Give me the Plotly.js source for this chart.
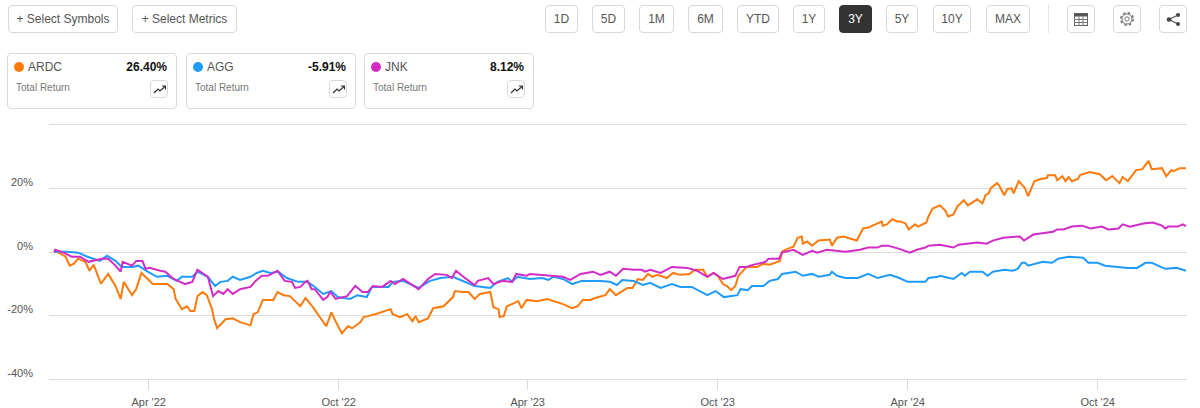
<!DOCTYPE html>
<html><head><meta charset="utf-8">
<script src="https://cdn.plot.ly/plotly-3.0.1.min.js"></script>
<style>
html,body{margin:0;padding:0;background:#fff;width:1200px;height:408px;overflow:hidden;font-family:"Liberation Sans",Arial,sans-serif}
#chart{position:absolute;left:0;top:0;width:1200px;height:408px}
.b{position:absolute;box-sizing:border-box;border:1px solid #d9d9d9;border-radius:4px;background:#fff;color:#555;font-size:12px;display:flex;align-items:center;justify-content:center;z-index:2}
.b.on{background:#333;border-color:#333;color:#fff;font-weight:400}
.card{position:absolute;box-sizing:border-box;border:1px solid #d9d9d9;border-radius:4px;top:53px;height:56px;width:170px;background:#fff;z-index:2}
.dot{position:absolute;left:6px;top:8px;width:10px;height:10px;border-radius:50%}
.sym{position:absolute;left:20px;top:6px;font-size:12px;color:#555}
.val{position:absolute;right:9px;top:6px;font-size:12px;font-weight:700;color:#111}
.tr{position:absolute;left:8px;top:28px;font-size:10px;color:#777}
.ic{position:absolute;right:8px;top:26px;width:18px;height:18px;box-sizing:border-box;border:1px solid #d9d9d9;border-radius:4px;display:flex;align-items:center;justify-content:center}
.div{position:absolute;left:1048px;top:5px;width:1px;height:28px;background:#e3e3e3}
</style></head><body>
<div id="chart"></div>
<script>
var startDate = Date.UTC(2021, 11, 31);
var ardcDays = [0,1,6,11,15,19,23,30,34,38,45,52,59,64,67,75,79,84,95,109,115,117,123,128,131,135,138,143,147,152,154,157,165,172,179,189,192,196,201,211,215,221,227,235,237,242,249,262,267,271,277,283,287,295,298,302,309,324,326,333,340,345,348,351,360,365,375,384,386,393,399,405,410,420,423,428,429,433,436,447,450,455,465,475,481,490,499,504,509,516,524,531,535,541,552,557,562,567,572,576,581,590,596,603,612,617,625,629,635,639,644,648,652,656,659,667,677,683,689,699,701,706,712,716,720,721,725,730,736,747,749,754,760,773,779,784,793,797,798,802,807,812,815,820,823,829,832,840,842,846,853,858,861,866,870,876,880,889,894,897,900,902,908,910,915,918,922,924,929,935,938,944,950,956,957,964,966,971,974,977,980,986,988,997,1007,1013,1019,1026,1029,1034,1042,1048,1054,1057,1067,1071,1076,1078,1084,1090];
var ardcValues = [0,0.4,-0.5,-1.5,-4.3,-3.7,-2.1,-3.1,-5.9,-4.0,-10.0,-6.9,-10.7,-14.8,-9.4,-13.6,-11.7,-6.6,-10.1,-10.1,-11.7,-14.8,-18.0,-17.1,-18.6,-18.6,-13.9,-12.6,-13.6,-18.0,-21.2,-24.0,-21.2,-20.9,-22.1,-23.1,-19.6,-19.0,-15.1,-15.1,-12.6,-13.6,-13.9,-16.4,-17.1,-14.5,-17.3,-23.4,-19.0,-21.8,-25.6,-23.4,-24.0,-22.1,-20.5,-20.2,-19.6,-18.0,-19.6,-20.5,-19.6,-21.8,-20.2,-22.1,-20.9,-17.7,-17.1,-14.2,-12.3,-12.6,-12.6,-14.8,-13.2,-12.6,-17.4,-18.0,-20.5,-20.2,-17.1,-15.5,-17.7,-15.1,-15.5,-14.8,-15.5,-16.4,-17.7,-17.1,-15.1,-15.1,-14.2,-13.6,-11.7,-13.6,-11.3,-11.3,-8.5,-8.8,-6.9,-7.8,-7.2,-8.2,-6.6,-7.2,-6.9,-5.6,-5.6,-7.8,-6.6,-7.5,-10.1,-10.7,-12.0,-10.7,-7.5,-4.7,-4.7,-3.7,-4.0,-2.8,0.1,1.0,1.7,4.5,4.9,2.6,3.3,2.0,3.6,3.9,2.0,4.5,4.9,3.6,7.4,7.7,9.0,9.6,8.3,8.7,10.3,9.6,9.6,9.0,7.1,8.7,8.0,9.3,11.2,13.7,14.7,13.1,11.2,11.8,14.4,16.3,14.7,16.6,15.3,17.9,18.5,20.1,21.7,21.0,17.9,19.8,20.1,18.5,22.3,20.1,17.6,22.3,23.0,23.3,24.2,24.2,22.6,23.9,22.3,23.6,22.3,23.0,24.2,25.2,24.5,22.6,23.9,21.7,23.6,22.3,25.8,26.1,28.7,26.1,26.4,23.9,25.8,25.5,26.4,26.40];
var aggDays = [0,1,13,23,32,39,44,51,59,65,75,81,90,99,109,118,123,133,138,148,155,160,167,172,179,189,195,201,208,216,224,235,244,251,259,267,273,285,292,301,306,322,326,336,351,362,372,384,394,405,420,427,437,441,446,458,470,476,481,490,499,508,526,535,542,547,558,567,574,584,595,603,614,629,637,645,658,661,668,672,683,689,697,701,714,721,730,736,747,749,754,762,774,784,793,805,814,822,839,842,851,853,866,874,877,882,894,899,904,911,915,923,928,932,935,938,945,952,961,967,977,991,996,1005,1012,1027,1034,1043,1051,1057,1063,1070,1081,1090];
var aggValues = [0,0.1,0.1,-0.2,-1.5,-2.4,-2.8,-1.2,-2.8,-4.7,-4.7,-4.3,-6.2,-7.8,-7.5,-9.1,-7.8,-7.8,-6.2,-7.8,-10.7,-9.4,-9.1,-7.8,-8.8,-7.8,-6.6,-5.9,-6.6,-6.2,-8.2,-9.4,-9.4,-11.0,-13.2,-12.3,-14.2,-14.8,-13.6,-14.2,-11.0,-11.0,-9.4,-9.1,-11.3,-9.1,-8.2,-7.8,-9.1,-10.7,-11.3,-9.4,-8.2,-9.4,-7.8,-8.5,-8.2,-8.8,-7.8,-8.5,-10.1,-9.1,-9.1,-9.4,-10.4,-8.8,-9.1,-10.4,-9.7,-11.3,-10.1,-11.0,-11.0,-13.6,-12.3,-14.2,-13.6,-11.7,-12.0,-10.7,-10.7,-9.1,-8.5,-6.9,-6.2,-7.5,-6.9,-7.8,-7.2,-6.2,-7.5,-8.2,-8.2,-6.9,-8.2,-7.2,-8.2,-9.4,-9.4,-8.2,-7.8,-7.5,-8.5,-6.6,-7.5,-6.2,-6.2,-7.5,-6.2,-5.9,-5.6,-5.9,-5.3,-3.4,-3.4,-4.3,-3.7,-3.1,-3.4,-2.1,-1.5,-1.8,-3.4,-3.4,-4.3,-4.7,-5.0,-5.0,-3.4,-3.4,-4.3,-5.3,-5.0,-5.91];
var jnkDays = [0,1,9,17,25,33,46,52,59,64,66,75,79,85,88,92,102,107,115,126,133,138,148,153,158,163,167,172,179,189,194,200,206,215,222,229,232,237,242,244,248,251,259,263,266,271,282,290,297,302,307,316,324,328,336,351,360,367,378,383,387,394,405,408,418,423,432,441,445,455,458,471,484,490,497,507,519,526,535,541,548,558,566,569,574,584,595,610,619,629,635,644,656,660,667,670,685,688,698,701,712,721,730,735,744,754,762,776,784,793,797,803,814,824,831,839,842,853,866,871,889,898,904,914,930,934,943,962,966,972,980,990,998,1009,1015,1025,1029,1036,1049,1058,1067,1070,1073,1082,1087,1090];
var jnkValues = [0,0.7,-0.2,-1.5,-1.5,-3.1,-2.1,-2.1,-4.3,-6.2,-3.1,-4.3,-2.8,-2.8,-5.3,-5.0,-5.9,-6.2,-8.5,-10.1,-9.4,-5.6,-7.8,-13.9,-12.3,-13.2,-11.7,-13.2,-11.7,-11.0,-9.1,-7.5,-7.5,-5.9,-9.1,-9.4,-11.3,-11.0,-9.4,-9.1,-11.7,-11.7,-15.1,-14.2,-12.6,-14.8,-13.9,-10.7,-12.6,-12.6,-10.7,-11.0,-9.1,-10.1,-8.5,-11.7,-8.5,-6.9,-7.2,-8.2,-5.9,-7.8,-10.4,-9.1,-8.2,-10.1,-9.1,-9.4,-6.9,-7.5,-6.9,-7.2,-7.5,-7.8,-8.8,-6.9,-6.2,-7.2,-6.2,-7.5,-5.3,-5.6,-5.6,-6.2,-5.6,-6.6,-4.7,-5.0,-5.9,-7.8,-6.6,-8.5,-7.5,-4.7,-4.7,-4.3,-3.1,-2.1,-2.1,-0.2,0.7,-0.9,0.4,-0.2,0.7,0.4,0.1,0.7,1.4,1.4,2.0,2.0,1.0,-0.2,0.7,1.4,2.0,2.3,1.4,2.3,3.0,2.6,3.6,4.5,4.9,3.6,5.5,6.4,7.1,7.1,8.0,8.3,7.4,8.0,7.1,7.4,8.7,8.0,9.0,9.3,8.3,7.4,8.0,8.0,8.7,8.12];
var tickDates = ['2022-04-01','2022-10-01','2023-04-01','2023-10-01','2024-04-01','2024-10-01'];
var tickLabels = ["Apr '22","Oct '22","Apr '23","Oct '23","Apr '24","Oct '24"];
var yTicks = [-40,-20,0,20,40];
var yLabels = ['-40%','-20%','0%','20%',''];
var symbols = ['ARDC','AGG','JNK'];
var returns = ['26.40%','-5.91%','8.12%'];
var colors = ['#ff7a0d','#1f9bfb','#d32cc6'];

function toDates(days){return days.map(function(d){return new Date(startDate+d*864e5).toISOString().slice(0,10);});}
function line(days,vals,i){return {x:toDates(days),y:vals,type:'scatter',mode:'lines',name:symbols[i],line:{color:colors[i],width:2},hoverinfo:'skip'};}

Plotly.newPlot('chart',[line(ardcDays,ardcValues,0),line(aggDays,aggValues,1),line(jnkDays,jnkValues,2)],{
  width:1200,height:408,showlegend:false,paper_bgcolor:'#fff',plot_bgcolor:'#fff',
  margin:{l:49,r:13,t:125,b:29,pad:0},
  font:{family:'"Liberation Sans",Arial,sans-serif',size:11,color:'#555'},
  xaxis:{type:'date',range:['2021-12-26','2024-12-26'],tickmode:'array',tickvals:tickDates,ticktext:tickLabels,
    ticks:'outside',ticklen:10,tickcolor:'#d9d9d9',tickwidth:1,showgrid:false,zeroline:false,showline:true,mirror:true,linecolor:'#dcdcdc',linewidth:1,ticklabelstandoff:3,tickfont:{size:11,color:'#555'}},
  yaxis:{range:[-40,40],tickmode:'array',tickvals:yTicks,ticktext:yLabels,gridcolor:'#dcdcdc',gridwidth:1,
    zeroline:false,showline:false,ticks:'',ticklabelstandoff:15,ticklabelshift:-6,tickfont:{size:11,color:'#555'}}
},{staticPlot:true,displayModeBar:false});

var topLeft=[['+ Select Symbols',8,110],['+ Select Metrics',132,105]];
var ranges=[['1D',545,33],['5D',592,33],['1M',639,35],['6M',688,35],['YTD',737,42],['1Y',793,32],['3Y',839,33],['5Y',886,32],['10Y',933,38],['MAX',986,44]];
function el(html){var t=document.createElement('div');t.innerHTML=html;document.body.appendChild(t.firstChild);}
topLeft.forEach(function(b){el('<div class="b" style="left:'+b[1]+'px;top:5px;width:'+b[2]+'px;height:28px">'+b[0]+'</div>');});
ranges.forEach(function(b){el('<div class="b'+(b[0]==='3Y'?' on':'')+'" style="left:'+b[1]+'px;top:5px;width:'+b[2]+'px;height:28px">'+b[0]+'</div>');});
el('<div class="div"></div>');
el('<div class="b" style="left:1067px;top:5px;width:28px;height:28px"><svg width="14" height="13" viewBox="0 0 14 13"><rect x=".5" y=".5" width="13" height="12" fill="#fff" stroke="#666"/><rect x=".5" y=".5" width="13" height="3" fill="#555"/><path d="M.5 6.5H13.5M.5 9.5H13.5M5 3.5V12.5M9 3.5V12.5" stroke="#777" fill="none"/></svg></div>');
el('<div class="b" style="left:1113px;top:5px;width:28px;height:28px"><svg width="16" height="16" viewBox="0 0 16 16"><circle cx="8" cy="8" r="2.2" fill="none" stroke="#777"/><circle cx="8" cy="8" r="5" fill="none" stroke="#777"/><circle cx="8" cy="8" r="6.2" fill="none" stroke="#777" stroke-width="1.6" stroke-dasharray="2.6 2.27"/></svg></div>');
el('<div class="b" style="left:1159px;top:5px;width:28px;height:28px"><svg width="15" height="15" viewBox="0 0 15 15"><path d="M3 7.5L12 3M3 7.5L12 12" stroke="#555" stroke-width="1.3" fill="none"/><circle cx="3" cy="7.5" r="2.3" fill="#444"/><circle cx="12" cy="3" r="2" fill="#444"/><circle cx="12" cy="12" r="2" fill="#444"/></svg></div>');
var cardLeft=[7,186,364];
symbols.forEach(function(s,i){
  el('<div class="card" style="left:'+cardLeft[i]+'px"><div class="dot" style="background:'+colors[i]+'"></div><div class="sym">'+s+'</div><div class="val">'+returns[i]+'</div><div class="tr">Total Return</div><div class="ic"><svg width="13" height="9" viewBox="0 0 13 9"><path d="M1 8L5 4L7 6L12 1.5M9 1H12.5V4.5" stroke="#333" stroke-width="1.2" fill="none"/></svg></div></div>');
});
</script>
</body></html>
